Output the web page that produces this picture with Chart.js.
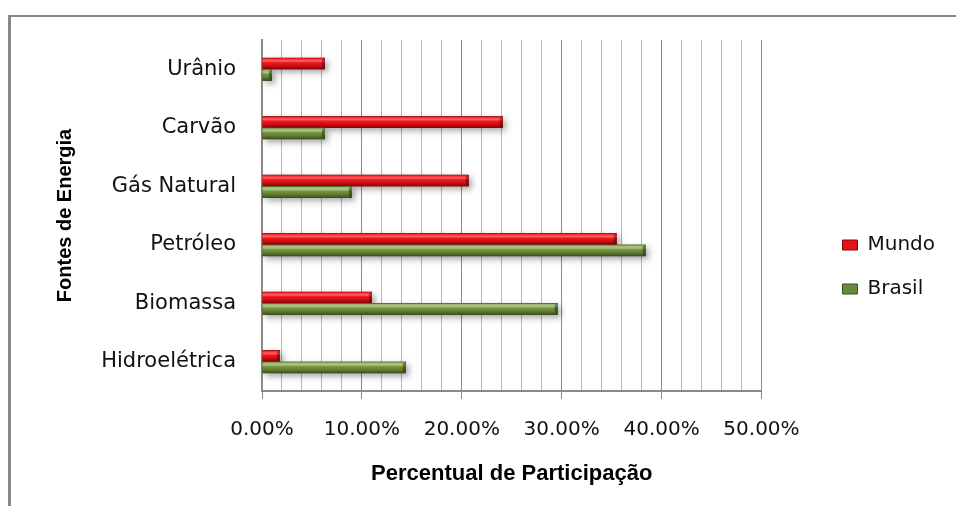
<!DOCTYPE html>
<html lang="pt-BR">
<head>
<meta charset="utf-8">
<title>Fontes de Energia</title>
<script src="https://cdn.jsdelivr.net/npm/chart.js@4.4.1/dist/chart.umd.min.js"></script>
<style>
  html, body { margin: 0; padding: 0; background: #fff; overflow: hidden; }
  #frame {
    position: absolute; left: 8px; top: 15px; width: 1100px; height: 700px;
    border-top: 2px solid #878787; border-left: 3px solid #878787;
  }
  #wrap { position: absolute; left: 0; top: 0; width: 956px; height: 506px; }
</style>
</head>
<body>
<div id="frame"></div>
<div id="wrap"><canvas id="fontesChart"></canvas></div>
<script>
// participação por fonte (%)
const categories = ["Urânio", "Carvão", "Gás Natural", "Petróleo", "Biomassa", "Hidroelétrica"];
const mundo = [6.3, 24.1, 20.7, 35.5, 11.0, 1.8];
const brasil = [1.0, 6.3, 9.0, 38.4, 29.6, 14.4];
const majorTicks = [0, 10, 20, 30, 40, 50];

Chart.defaults.font.family = "'DejaVu Sans', sans-serif";

// cores do efeito "bisel" das barras
const barLook = {
  Mundo: {
    base: "#e5121a", edge: "#7d0a0c",
    stops: ["#a50b10", "#ff2a30", "#ff6266", "#ee1a20", "#cf0c12", "#a5060b", "#7a0508"]
  },
  Brasil: {
    base: "#6a8a3b", edge: "#3d5120",
    stops: ["#4f6a2a", "#9db673", "#adc585", "#779743", "#5f7d33", "#4a6326", "#34461a"]
  }
};
const stopPos = [0, 0.1, 0.28, 0.42, 0.7, 0.88, 1];

const bevelBars = {
  id: "bevelBars",
  afterDatasetsDraw(chart) {
    const ctx = chart.ctx;
    chart.data.datasets.forEach((ds, i) => {
      const look = barLook[ds.label];
      const meta = chart.getDatasetMeta(i);
      meta.data.forEach((bar) => {
        const { x, y, base, height } = bar.getProps(["x", "y", "base", "height"], true);
        const left = Math.min(x, base);
        const w = Math.abs(x - base);
        const top = y - height / 2;
        const h = height;

        // sombra
        ctx.save();
        ctx.shadowColor = "rgba(0,0,0,0.35)";
        ctx.shadowBlur = 6;
        ctx.shadowOffsetX = 3;
        ctx.shadowOffsetY = 3;
        ctx.fillStyle = look.edge;
        ctx.fillRect(left, top, w, h);
        ctx.restore();

        // corpo com gradiente
        const g = ctx.createLinearGradient(0, top, 0, top + h);
        look.stops.forEach((c, k) => g.addColorStop(stopPos[k], c));
        ctx.fillStyle = g;
        ctx.fillRect(left, top, w, h);

        // ponta direita
        const cap = Math.min(3, w / 2);
        ctx.fillStyle = ds.label === "Brasil" ? "rgba(30,45,15,0.5)" : "rgba(60,10,10,0.45)";
        ctx.beginPath();
        ctx.moveTo(left + w - cap, top + 2);
        ctx.lineTo(left + w, top);
        ctx.lineTo(left + w, top + h);
        ctx.lineTo(left + w - cap, top + h - 2);
        ctx.closePath();
        ctx.fill();
      });
    });
  }
};

// empurra a legenda para a direita sem alterar a área do gráfico
const legendShift = {
  id: "legendShift",
  afterLayout(chart) {
    const lg = chart.legend;
    if (!lg) return;
    lg.left += 57;
    lg.right += 57;
  }
};

const isMajor = (v) => majorTicks.includes(v);

new Chart(document.getElementById("fontesChart"), {
  type: "bar",
  data: {
    labels: categories,
    datasets: [
      {
        label: "Mundo",
        data: mundo,
        backgroundColor: barLook.Mundo.base,
        borderColor: barLook.Mundo.edge,
        borderWidth: 1
      },
      {
        label: "Brasil",
        data: brasil,
        backgroundColor: barLook.Brasil.base,
        borderColor: barLook.Brasil.edge,
        borderWidth: 1
      }
    ]
  },
  options: {
    indexAxis: "y",
    animation: false,
    responsive: true,
    maintainAspectRatio: false,
    layout: { padding: { left: 49, top: 40, right: 68, bottom: 12 } },
    datasets: { bar: { barPercentage: 1, categoryPercentage: 0.39 } },
    scales: {
      x: {
        min: 0,
        max: 50,
        ticks: {
          stepSize: 2,
          autoSkip: false,
          maxRotation: 0,
          padding: 19,
          color: "#111",
          font: { size: 20 },
          callback: (v) => (isMajor(v) ? v.toFixed(2) + "%" : "")
        },
        grid: {
          color: (c) => (c.tick && isMajor(c.tick.value) ? "#8a8a8a" : "#b8b8b8"),
          tickColor: (c) => (c.tick && isMajor(c.tick.value) ? "#8a8a8a" : "rgba(0,0,0,0)"),
          tickLength: 8,
          lineWidth: 1
        },
        border: { color: "#8a8a8a", width: 2 },
        title: {
          display: true,
          text: "Percentual de Participação",
          color: "#000",
          font: { family: "'Liberation Sans', sans-serif", size: 22, weight: "bold" },
          padding: { top: 4, bottom: 7 }
        },
        afterFit: (s) => { s.height = 103; }
      },
      y: {
        grid: { display: false },
        border: { color: "#8a8a8a", width: 2 },
        ticks: { padding: 18, color: "#111", font: { size: 21 } },
        title: {
          display: true,
          text: "Fontes de Energia",
          color: "#000",
          font: { family: "'Liberation Sans', sans-serif", size: 20, weight: "bold" },
          padding: { top: 4, bottom: 0 }
        },
        afterFit: (s) => { s.width = 213; }
      }
    },
    plugins: {
      legend: {
        position: "right",
        labels: {
          boxWidth: 15,
          boxHeight: 10,
          padding: 24,
          color: "#111",
          font: { size: 20 }
        }
      },
      tooltip: { enabled: false }
    }
  },
  plugins: [bevelBars, legendShift]
});
</script>
</body>
</html>
